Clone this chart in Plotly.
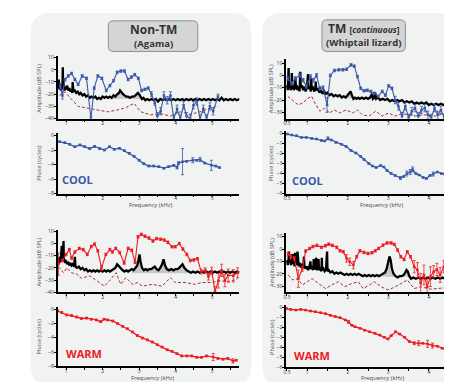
import plotly.graph_objects as go

W, H = 452, 382

# ---------------- DATA ----------------
# Left, cool: amplitude response (blue)
LC_AMP_F = [0.84,0.90,0.97,1.06,1.15,1.24,1.33,1.44,1.56,1.68,1.77,1.87,1.98,2.10,2.20,2.30,2.40,2.50,2.60,2.70,2.79,2.88,2.98,3.07,3.16,3.25,3.34,3.43,3.50,3.59,3.68,3.77,3.86,3.95,4.04,4.13,4.22,4.30,4.40,4.49,4.58,4.67,4.76,4.85,4.94,5.03,5.16]
LC_AMP_DB = [-13,-21,-8,-5,-3,-8,-12,-5,-7,-40,-15,-5,-7,-17,-13,-9,-2,-1,-1,-8,-6,-4,-7,-17,-16,-15,-20,-27,-38,-34,-21,-25,-21,-40,-32,-40,-29,-38,-40,-29,-26,-40,-32,-40,-30,-34,-22]
LC_AMP_ERR = [2,3,1,1,1,1,1,1,1,2,1,1,1,1,1,1,1,1,1,1,1,1,1,1,1,1,2,2,3,3,3,3,3,3,3,3,3,3,3,3,3,3,3,3,3,3,2]
LC_NF_F = [0.82,0.97,1.11,1.33,1.60,1.87,2.14,2.41,2.64,2.86,3.05,3.32,3.59,3.86,4.13,4.40,4.67,4.94,5.16]
LC_NF_DB = [-21,-18,-23,-30,-31.5,-33,-34.5,-33,-31,-27.5,-34.5,-37,-36,-38,-34.5,-36.5,-34.5,-31.5,-30]
LC_BK_F = [0.78,0.80,0.82,0.84,0.86,0.88,0.90,0.91,0.92,0.94,0.96,0.98,1.00,1.03,1.06,1.09,1.12,1.15,1.17,1.18,1.20,1.24,1.28,1.32,1.36,1.40,1.45,1.50,1.55,1.60,1.65,1.70,1.75,1.80,1.85,1.90,1.95,2.00,2.05,2.10,2.15,2.20,2.25,2.30,2.35,2.40,2.45,2.48,2.52,2.56,2.60,2.65,2.70,2.75,2.80,2.85,2.90,2.94,2.97,3.00,3.04,3.08,3.12,3.17,3.22,3.28,3.34,3.40,3.46,3.52,3.58,3.64,3.70,3.76,3.82,3.88,3.94,4.00,4.06,4.12,4.18,4.24,4.30,4.36,4.42,4.48,4.54,4.60,4.66,4.72,4.78,4.84,4.90,4.96,5.02,5.08,5.14,5.20,5.26,5.32,5.38,5.44,5.50,5.56,5.62,5.68,5.75]
LC_BK_DB = [-15,-8,-16,-12,-17,-13,-16,2,-15,-12,-17,-14,-16,-13,-17,-15,-18,-16,-19,-10,-18,-17,-19,-18,-20,-19,-21,-20,-22,-21,-23,-22,-23,-22,-24,-23,-24,-22,-23,-22,-23,-22,-23,-21,-22,-20,-19,-17,-19,-20,-21,-22,-22,-23,-22,-22,-21,-20,-19,-20,-22,-24,-23,-25,-24,-25,-24,-25,-24,-26,-24,-25,-24,-25,-24,-25,-24,-25,-24,-25,-24,-25,-24,-25,-24,-25,-24,-25,-24,-25,-24,-25,-24,-25,-24,-25,-24,-25,-23,-25,-24,-25,-24,-25,-24,-25,-24]
LC_FILL = (2.30, 3.10, -24)

# Left, cool: phase
LC_PH_F = [0.82,0.97,1.10,1.24,1.38,1.51,1.65,1.78,1.92,2.05,2.19,2.32,2.46,2.60,2.73,2.86,3.00,3.13,3.27,3.40,3.54,3.68,3.81,3.95,4.04,4.08,4.19,4.30,4.47,4.58,4.67,4.80,4.98,5.10,5.20]
LC_PH = [-0.85,-1.0,-1.2,-1.55,-1.3,-1.55,-1.8,-1.5,-1.8,-2.0,-1.55,-1.9,-1.75,-2.1,-2.45,-2.85,-3.4,-3.9,-4.2,-4.2,-4.3,-4.5,-4.3,-4.1,-4.4,-3.8,-3.6,-3.55,-3.4,-3.4,-3.3,-3.8,-4.1,-4.2,-4.4]
LC_PH_ERR = [0.1,0.1,0.1,0.1,0.1,0.1,0.1,0.1,0.1,0.1,0.1,0.1,0.1,0.1,0.1,0.1,0.1,0.1,0.1,0.1,0.1,0.1,0.1,0.1,0.2,0.2,1.8,0.1,0.35,0.1,0.3,0.1,0.7,0.1,0.1]

# Left, warm: amplitude response (red)
LW_AMP_F = [0.79,0.90,1.00,1.09,1.15,1.24,1.36,1.47,1.58,1.69,1.78,1.87,1.97,2.09,2.20,2.27,2.36,2.47,2.59,2.70,2.80,2.89,2.97,3.06,3.16,3.27,3.38,3.48,3.59,3.69,3.79,3.90,3.99,4.10,4.20,4.31,4.40,4.50,4.60,4.70,4.81,4.90,4.99,5.08,5.17,5.26,5.35,5.44,5.58,5.70]
LW_AMP_DB = [-17,-14,-9,-5,-12,-7,-4,-5,-9,-2.5,-0.5,-6,-20,-9,-5,-7,-4,-7.5,-16,-4,-5.5,-15.5,5.5,7.5,6,4.5,2,4,3.5,2.8,1,-2.7,-2.7,0,-4.6,-9,-14,-13.5,-12.5,-23,-22,-27,-22.5,-39.5,-30.5,-22,-30.5,-26,-26.5,-24]
LW_AMP_ERR = [9,1,1,1,1,1,1,1,1,1,1,1,2,1,1,1,1,1,1,1,1,1,1,1,1,1,1,1,1,1,1,1,1,1,1,1,1,1,1,2,2,3,3,4,6,5,5,5,5,4]
LW_NF_F = [0.79,0.93,1.02,1.15,1.29,1.42,1.65,1.83,2.05,2.19,2.37,2.50,2.64,2.82,2.95,3.09,3.36,3.63,3.86,3.99,4.26,4.53,4.71,4.98,5.25,5.43,5.70]
LW_NF_DB = [-19,-24,-20,-24,-25,-28.5,-26.5,-30.5,-35,-30.5,-24,-33.5,-28,-33.5,-32,-35,-33.5,-35,-28,-32,-32,-33.5,-32,-32,-30.5,-32,-29]
LW_BK_F = [0.78,0.80,0.82,0.84,0.86,0.88,0.89,0.91,0.93,0.94,0.96,0.98,1.00,1.03,1.06,1.09,1.12,1.15,1.18,1.22,1.24,1.26,1.30,1.35,1.40,1.45,1.50,1.55,1.60,1.65,1.70,1.75,1.80,1.85,1.90,1.95,2.00,2.05,2.10,2.15,2.20,2.25,2.30,2.35,2.40,2.45,2.50,2.55,2.60,2.65,2.70,2.75,2.80,2.85,2.90,2.95,2.98,3.01,3.04,3.08,3.13,3.18,3.23,3.28,3.33,3.38,3.43,3.48,3.53,3.58,3.63,3.67,3.71,3.76,3.82,3.88,3.94,4.00,4.05,4.10,4.15,4.19,4.24,4.30,4.36,4.42,4.48,4.54,4.60,4.66,4.72,4.78,4.84,4.90,4.96,5.02,5.08,5.14,5.20,5.26,5.32,5.38,5.44,5.50,5.56,5.62,5.68,5.75]
LW_BK_DB = [-13,-16,-11,-15,-12,-2,-14,-11,2,-15,-13,-16,-14,-17,-15,-18,-16,-18,-17,-19,-11,-19,-20,-19,-21,-20,-22,-21,-23,-22,-23,-22,-23,-22,-23,-22,-23,-22,-23,-22,-23,-22,-21,-20,-17,-19,-21,-22,-23,-22,-23,-22,-21,-22,-20,-18,-14,-9,-15,-20,-22,-21,-22,-21,-21,-20,-19,-21,-22,-20,-17,-13,-18,-21,-22,-21,-22,-21,-21,-20,-18,-17,-20,-22,-23,-24,-23,-24,-23,-24,-23,-24,-23,-24,-23,-24,-23,-24,-23,-24,-23,-24,-23,-24,-23,-24,-23,-24]
LW_FILL = (2.77, 4.50, -24.5)

# Left, warm: phase
LW_PH_F = [0.77,0.88,1.02,1.15,1.29,1.42,1.56,1.69,1.83,1.95,2.04,2.14,2.28,2.41,2.55,2.68,2.82,2.95,3.09,3.23,3.36,3.50,3.63,3.77,3.90,4.04,4.17,4.31,4.44,4.58,4.71,4.85,5.03,5.16,5.30,5.43,5.57,5.66]
LW_PH = [-0.25,-0.45,-0.8,-0.9,-1.1,-1.3,-1.25,-1.4,-1.5,-1.75,-1.4,-1.5,-1.65,-2.0,-2.4,-2.75,-3.2,-3.7,-4.05,-4.3,-4.6,-5.0,-5.3,-5.7,-5.9,-6.25,-6.55,-6.55,-6.55,-6.75,-6.75,-6.55,-6.7,-6.9,-7.0,-6.9,-7.25,-7.15]
LW_PH_ERR = [0.1]*32 + [0.5,0.1,0.1,0.1,0.3,0.1]

# Right, cool: amplitude response (blue)
RC_AMP_F = [0.52,0.62,0.70,0.81,0.90,0.98,1.08,1.15,1.23,1.31,1.39,1.49,1.57,1.67,1.78,1.88,1.97,2.08,2.16,2.24,2.32,2.40,2.48,2.57,2.65,2.75,2.85,2.93,3.01,3.09,3.17,3.25,3.34,3.42,3.50,3.58,3.66,3.74,3.82,3.90,3.98,4.06,4.14,4.22,4.30,4.38,4.46,4.54,4.62,4.71]
RC_AMP_DB = [-2.5,-6.5,-2.5,0,-4,-9,-1,-4,0,-10.5,-10,-24,0,4,4.5,4.5,5,8.5,7.5,-1,-10.5,-12.5,-12,-13,-14.5,-17,-13,-16,-8.5,-10.5,-20,-25,-33,-25,-34.5,-29,-26.5,-33,-28,-26.5,-32,-34.5,-26.5,-32,-28,-34.5,-26.5,-32,-29,-26.5]
RC_AMP_ERR = [1.5]*11 + [6] + [1]*18 + [3]*20
RC_NF_F = [0.52,0.66,0.78,0.90,1.02,1.11,1.19,1.31,1.43,1.55,1.67,1.79,1.96,2.12,2.24,2.36,2.52,2.69,2.85,3.01,3.17,3.34,3.50,3.66,3.90,4.15,4.39,4.63]
RC_NF_DB = [-17,-21,-24,-22,-18.5,-17,-22.5,-29,-26.5,-30.5,-28,-30.5,-28,-30.5,-28,-32,-33,-29,-33,-30.5,-33,-31,-32,-33,-32,-33,-31,-33]
RC_BK_F = [0.50,0.52,0.54,0.55,0.57,0.59,0.61,0.62,0.63,0.65,0.67,0.69,0.71,0.72,0.74,0.76,0.79,0.81,0.83,0.84,0.87,0.90,0.93,0.96,0.99,1.02,1.03,1.06,1.09,1.10,1.11,1.14,1.17,1.20,1.21,1.22,1.26,1.30,1.34,1.38,1.42,1.46,1.50,1.55,1.60,1.65,1.70,1.75,1.80,1.85,1.90,1.95,2.00,2.04,2.07,2.10,2.14,2.18,2.22,2.26,2.30,2.35,2.40,2.45,2.50,2.55,2.60,2.62,2.66,2.68,2.70,2.75,2.80,2.86,2.92,2.98,3.04,3.10,3.16,3.22,3.28,3.34,3.40,3.46,3.52,3.58,3.64,3.70,3.76,3.82,3.88,3.94,4.00,4.06,4.12,4.18,4.24,4.30,4.36,4.42,4.48,4.54,4.60,4.66,4.72,4.78]
RC_BK_DB = [-8,-12,6,-10,-7,-12,-9,2,-11,-8,-12,-9,-2,-11,-8,-12,-9,-13,3,-10,-8,-12,-9,-13,-10,1,-11,-9,-13,-3,-11,-10,-13,-11,-5,-12,-11,-14,-12,-15,-13,-15,-14,-16,-15,-17,-16,-17,-16,-18,-17,-18,-16,-14,-13,-16,-19,-18,-19,-18,-19,-18,-19,-18,-19,-18,-15,-19,-18,-14,-19,-18,-20,-19,-20,-19,-21,-20,-21,-20,-21,-20,-22,-21,-22,-21,-23,-22,-23,-22,-23,-22,-24,-23,-24,-23,-24,-23,-24,-23,-24,-23,-24,-23,-24,-23]
RC_FILL = (1.92, 2.20, -18.5)

# Right, cool: phase
RC_PH_F = [0.51,0.62,0.74,0.86,0.98,1.11,1.23,1.35,1.43,1.51,1.59,1.71,1.84,1.96,2.08,2.20,2.32,2.40,2.52,2.61,2.70,2.81,2.89,2.97,3.07,3.17,3.30,3.38,3.46,3.54,3.60,3.68,3.76,3.86,3.94,4.03,4.11,4.21,4.31,4.39,4.49,4.59,4.71]
RC_PH = [-0.07,-0.16,-0.23,-0.4,-0.4,-0.5,-0.55,-0.7,-0.75,-0.5,-0.65,-0.9,-1.07,-1.3,-1.7,-1.95,-2.3,-2.6,-3.0,-3.25,-3.4,-3.2,-3.35,-3.7,-4.0,-4.2,-4.45,-4.3,-4.0,-3.85,-3.6,-4.0,-4.15,-4.4,-4.5,-4.2,-4.05,-3.85,-4.0,-4.05,-4.3,-4.15,-3.9]
RC_PH_ERR = [0.05]*9 + [0.15] + [0.05]*16 + [0.15,0.05,0.25,0.25,0.25] + [0.05]*5 + [0.2,0.05,0.05,0.05,0.3,0.35,0.3]

# Right, warm: amplitude response (red)
RW_AMP_F = [0.53,0.59,0.68,0.78,0.88,0.96,1.06,1.14,1.24,1.35,1.45,1.53,1.62,1.73,1.81,1.89,1.97,2.05,2.14,2.22,2.30,2.40,2.50,2.60,2.68,2.76,2.87,2.97,3.07,3.15,3.23,3.31,3.39,3.47,3.55,3.64,3.72,3.80,3.88,3.96,4.04,4.12,4.20,4.28,4.37,4.46,4.57,4.69]
RW_AMP_DB = [-4,-6,-7.5,-24,-16,-1.6,0.5,2,3,1.4,2.7,4,3,1.4,-1.4,-2.2,-7.5,-10.3,-13,-6.2,-1.4,-2.7,-3.5,-3,-1.4,0.5,3.2,5,5,3.8,-0.8,-6.2,-8.4,-2.2,-6.2,-14.3,-17,-27.8,-21,-30.5,-22.4,-18.4,-16.5,-21,-14.3,-18.4,-29.2,-26.5]
RW_AMP_ERR = [1.5,1.5,1.5,7,2,1,1,1,1,1,1,1,1,1,1,1,3,3,3,1,1,1,1,1,1,1,1,1,1,1,1,1,1,1,1,5,6,8,8,8,8,5,5,6,5,5,7,7]
RW_NF_F = [0.53,0.64,0.76,0.88,1.00,1.12,1.28,1.45,1.61,1.77,1.93,2.09,2.26,2.38,2.54,2.66,2.82,2.99,3.15,3.31,3.47,3.64,3.80,4.04,4.28,4.53,4.69]
RW_NF_DB = [-21,-25,-24,-29,-26.5,-24,-28,-32,-29,-26.5,-30.5,-28,-26.5,-32,-29,-26.5,-30.5,-33,-31,-28,-25,-32,-30.5,-32.5,-32,-31,-30.5]
RW_BK_F = [0.50,0.52,0.54,0.55,0.56,0.58,0.60,0.62,0.64,0.65,0.67,0.69,0.70,0.71,0.73,0.75,0.76,0.77,0.79,0.81,0.84,0.87,0.90,0.92,0.93,0.96,0.99,1.02,1.05,1.08,1.09,1.12,1.15,1.16,1.17,1.20,1.22,1.23,1.26,1.28,1.29,1.32,1.35,1.36,1.37,1.40,1.43,1.46,1.49,1.50,1.53,1.57,1.62,1.67,1.72,1.77,1.82,1.87,1.92,1.97,2.02,2.07,2.12,2.17,2.22,2.27,2.32,2.37,2.42,2.47,2.52,2.57,2.62,2.67,2.72,2.77,2.82,2.87,2.92,2.96,3.00,3.03,3.06,3.09,3.13,3.18,3.23,3.28,3.33,3.38,3.42,3.45,3.48,3.52,3.56,3.62,3.68,3.74,3.80,3.86,3.92,3.98,4.04,4.10,4.16,4.22,4.28,4.34,4.40,4.46,4.52,4.58,4.64,4.70,4.78]
RW_BK_DB = [-9,-13,-8,-2,-11,-9,-13,-8,-4,-12,-10,-14,-3,-12,-10,-13,-2,-12,-14,-11,-15,-12,-15,-6,-14,-16,-14,-17,-15,-10,-16,-15,-17,-8,-16,-15,-7,-17,-16,-8,-17,-16,-18,-7,-17,-16,-18,-17,-2,-18,-17,-19,-18,-20,-19,-20,-19,-20,-21,-20,-21,-20,-21,-20,-21,-20,-21,-22,-21,-22,-21,-22,-21,-22,-21,-22,-21,-20,-19,-16,-10,-6,-9,-16,-20,-22,-23,-22,-22,-21,-19,-17,-18,-22,-24,-23,-24,-23,-24,-23,-24,-23,-24,-23,-24,-23,-24,-23,-24,-23,-24,-23,-24,-23,-24]
RW_FILL = (2.85, 3.56, -22.5)

# Right, warm: phase
RW_PH_F = [0.49,0.59,0.72,0.84,0.96,1.08,1.20,1.33,1.45,1.57,1.69,1.81,1.94,2.02,2.10,2.18,2.30,2.42,2.54,2.67,2.79,2.90,2.99,3.07,3.18,3.28,3.40,3.52,3.64,3.75,3.85,3.97,4.09,4.21,4.33,4.46,4.58,4.67]
RW_PH = [-0.15,-0.23,-0.3,-0.23,-0.3,-0.4,-0.46,-0.56,-0.66,-0.82,-0.95,-1.05,-1.28,-1.48,-1.8,-1.97,-2.1,-2.3,-2.46,-2.62,-2.79,-3.0,-3.18,-2.85,-2.46,-2.69,-3.0,-3.44,-3.6,-3.6,-3.6,-3.67,-3.84,-3.9,-4.1,-4.26,-4.66,-4.98]
RW_PH_ERR = [0.05]*13 + [0.15] + [0.05]*14 + [0.15,0.25,0.05,0.35,0.25,0.05,0.05,0.05,0.05,0.9]

L_XTICKS = [1, 2, 3, 4, 5]
R_XTICKS = [0.5, 1, 2, 3, 4]
AMP_L_YTICKS = [10, 0, -10, -20, -30, -40]
AMP_R_YTICKS = [10, 0, -10, -20, -30]
PH_L_YTICKS = [0, -2, -4, -6, -8]
PH_R_YTICKS = [0, -1, -2, -3, -4, -5, -6]

BLUE = "#3a58a8"
RED = "#ec1c24"
DASH = "#a3302f"
FONT = "Open Sans"

# ---------------- LAYOUT HELPERS ----------------
def px_x(v): return v / W
def px_y(v): return 1 - v / H

fig = go.Figure()

# (x px range, y px range, x range, y range, xticks, yticks)
axes = [
    ((47, 230), (47, 110), [0.77, 5.75], [-40, 11], L_XTICKS, AMP_L_YTICKS),
    ((47, 230), (125, 186), [0.77, 5.75], [-8, 0.3], L_XTICKS, PH_L_YTICKS),
    ((47, 230), (223, 286), [0.77, 5.75], [-40, 11], L_XTICKS, AMP_L_YTICKS),
    ((47, 230), (301, 361), [0.77, 5.75], [-8, 0.3], L_XTICKS, PH_L_YTICKS),
    ((277, 452), (50, 110), [0.48, 4.77], [-35, 13], R_XTICKS, AMP_R_YTICKS),
    ((277, 452), (123, 186), [0.48, 4.77], [-6, 0.2], R_XTICKS, PH_R_YTICKS),
    ((277, 452), (226, 286), [0.48, 4.77], [-35, 13], R_XTICKS, AMP_R_YTICKS),
    ((277, 452), (299, 362), [0.48, 4.77], [-6, 0.2], R_XTICKS, PH_R_YTICKS),
]

tickfont = dict(family=FONT, size=5, color="#333")
for i, (xp, yp, xr, yr, xt, yt) in enumerate(axes, start=1):
    sfx = "" if i == 1 else str(i)
    fig.update_layout(**{
        "xaxis" + sfx: dict(domain=[px_x(xp[0]), px_x(xp[1])], range=xr, anchor="y" + sfx,
                            showline=True, linecolor="black", linewidth=1.8, ticks="outside",
                            ticklen=2, tickwidth=0.8, tickcolor="black", tickvals=xt,
                            ticktext=[str(v) for v in xt], tickfont=tickfont, showgrid=False,
                            zeroline=False, fixedrange=True, ticklabelstandoff=-3,
                            minor=dict(tick0=0, dtick=0.5, ticks="outside", ticklen=2,
                                       tickwidth=0.8, tickcolor="black", showgrid=False)),
        "yaxis" + sfx: dict(domain=[px_y(yp[1]), px_y(yp[0])], range=yr, anchor="x" + sfx,
                            showline=True, linecolor="black", linewidth=1.8, ticks="outside",
                            ticklen=2, tickwidth=0.8, tickcolor="black", tickvals=yt,
                            tickfont=tickfont, showgrid=False, zeroline=False, fixedrange=True,
                            ticklabelstandoff=-1),
    })


def axref(i):
    return ("x" if i == 1 else "x%d" % i), ("y" if i == 1 else "y%d" % i)


def add_amp(i, rf, rdb, rerr, nff, nfdb, bkf, bkdb, fill, color):
    xa, ya = axref(i)
    lo, hi, base = fill
    sub = [(f, d) for f, d in zip(bkf, bkdb) if lo <= f <= hi]
    fx = [p[0] for p in sub] + [p[0] for p in sub][::-1]
    fy = [p[1] for p in sub] + [base] * len(sub)
    fig.add_trace(go.Scatter(x=fx, y=fy, fill="toself", fillcolor="#c8c8c8", mode="lines",
                             line=dict(width=0), xaxis=xa, yaxis=ya, hoverinfo="skip"))
    fig.add_trace(go.Scatter(x=nff, y=nfdb, mode="lines", line=dict(color=DASH, width=1, dash="3px,2px"),
                             xaxis=xa, yaxis=ya))
    fig.add_trace(go.Scatter(x=bkf, y=bkdb, mode="lines", line=dict(color="black", width=2.3),
                             xaxis=xa, yaxis=ya))
    fig.add_trace(go.Scatter(x=rf, y=rdb, mode="lines+markers", line=dict(color=color, width=1.1),
                             marker=dict(size=2.5, color=color, symbol="square"),
                             error_y=dict(type="data", array=rerr, color=color, thickness=0.8, width=1.5),
                             xaxis=xa, yaxis=ya, cliponaxis=True))


def add_phase(i, f, ph, err, color):
    xa, ya = axref(i)
    fig.add_trace(go.Scatter(x=f, y=ph, mode="lines+markers", line=dict(color=color, width=1.3),
                             marker=dict(size=2.5, color=color, symbol="square"),
                             error_y=dict(type="data", array=err, color=color, thickness=0.8, width=1.5),
                             xaxis=xa, yaxis=ya))


add_amp(1, LC_AMP_F, LC_AMP_DB, LC_AMP_ERR, LC_NF_F, LC_NF_DB, LC_BK_F, LC_BK_DB, LC_FILL, BLUE)
add_phase(2, LC_PH_F, LC_PH, LC_PH_ERR, BLUE)
add_amp(3, LW_AMP_F, LW_AMP_DB, LW_AMP_ERR, LW_NF_F, LW_NF_DB, LW_BK_F, LW_BK_DB, LW_FILL, RED)
add_phase(4, LW_PH_F, LW_PH, LW_PH_ERR, RED)
add_amp(5, RC_AMP_F, RC_AMP_DB, RC_AMP_ERR, RC_NF_F, RC_NF_DB, RC_BK_F, RC_BK_DB, RC_FILL, BLUE)
add_phase(6, RC_PH_F, RC_PH, RC_PH_ERR, BLUE)
add_amp(7, RW_AMP_F, RW_AMP_DB, RW_AMP_ERR, RW_NF_F, RW_NF_DB, RW_BK_F, RW_BK_DB, RW_FILL, RED)
add_phase(8, RW_PH_F, RW_PH, RW_PH_ERR, RED)


# ---------------- DECORATION ----------------
def rrect(x0, y0, x1, y1, r):
    P = lambda x, y: "%.5f,%.5f" % (px_x(x), px_y(y))
    return ("M " + P(x0 + r, y0) + " L " + P(x1 - r, y0) + " Q " + P(x1, y0) + " " + P(x1, y0 + r) +
            " L " + P(x1, y1 - r) + " Q " + P(x1, y1) + " " + P(x1 - r, y1) +
            " L " + P(x0 + r, y1) + " Q " + P(x0, y1) + " " + P(x0, y1 - r) +
            " L " + P(x0, y0 + r) + " Q " + P(x0, y0) + " " + P(x0 + r, y0) + " Z")

shapes = [
    dict(type="path", path=rrect(20, 3, 242, 381, 20), xref="paper", yref="paper",
         fillcolor="#f1f2f2", line=dict(width=0), layer="below"),
    dict(type="path", path=rrect(253, 3, 480, 381, 20), xref="paper", yref="paper",
         fillcolor="#f1f2f2", line=dict(width=0), layer="below"),
    dict(type="path", path=rrect(98, 11, 188, 42, 5), xref="paper", yref="paper",
         fillcolor="#d5d5d5", line=dict(width=0.8, color="#7a7a7a"), layer="below"),
    dict(type="path", path=rrect(313, 10, 397, 42, 5), xref="paper", yref="paper",
         fillcolor="#d5d5d5", line=dict(width=0.8, color="#7a7a7a"), layer="below"),
]

anns = []
def ann(text, x, y, size, color="#333", angle=0, bold=False):
    anns.append(dict(text=("<b>%s</b>" % text) if bold else text, x=px_x(x), y=px_y(y),
                     xref="paper", yref="paper", showarrow=False, xanchor="center", yanchor="middle",
                     textangle=angle, font=dict(family=FONT, size=size, color=color)))

ann("Non-TM", 143, 20, 12, "#333", bold=True)
ann("(Agama)", 143, 34, 9.5, "#333", bold=True)
ann("TM <span style='font-size:8.5px'>[<i>continuous</i>]</span>", 355, 19, 12, "#333", bold=True)
ann("(Whiptail lizard)", 355, 33, 9.5, "#333", bold=True)

ann("Amplitude (dB SPL)", 28, 79, 5.5, "#555", angle=-90)
ann("Phase (cycles)", 28, 155, 5.5, "#555", angle=-90)
ann("Amplitude (dB SPL)", 28, 255, 5.5, "#555", angle=-90)
ann("Phase (cycles)", 28, 331, 5.5, "#555", angle=-90)
ann("Amplitude (dB SPL)", 262, 80, 5.5, "#555", angle=-90)
ann("Phase (cycles)", 262, 155, 5.5, "#555", angle=-90)
ann("Amplitude (dB SPL)", 262, 256, 5.5, "#555", angle=-90)
ann("Phase (cycles)", 262, 331, 5.5, "#555", angle=-90)

ann("Frequency (kHz)", 140, 198, 5.8, "#444")
ann("Frequency (kHz)", 142, 373, 5.8, "#444")
ann("Frequency (kHz)", 373, 198, 5.8, "#444")
ann("Frequency (kHz)", 374, 373, 5.8, "#444")

ann("COOL", 67, 172, 11, BLUE, bold=True)
ann("WARM", 73, 348, 11, RED, bold=True)
ann("COOL", 298, 173, 11, BLUE, bold=True)
ann("WARM", 303, 350, 11, RED, bold=True)

fig.update_layout(width=W, height=H, margin=dict(l=0, r=0, t=0, b=0), showlegend=False,
                  paper_bgcolor="white", plot_bgcolor="rgba(0,0,0,0)", shapes=shapes, annotations=anns,
                  font=dict(family=FONT))

fig.write_html("out.html", config={"displayModeBar": False})
